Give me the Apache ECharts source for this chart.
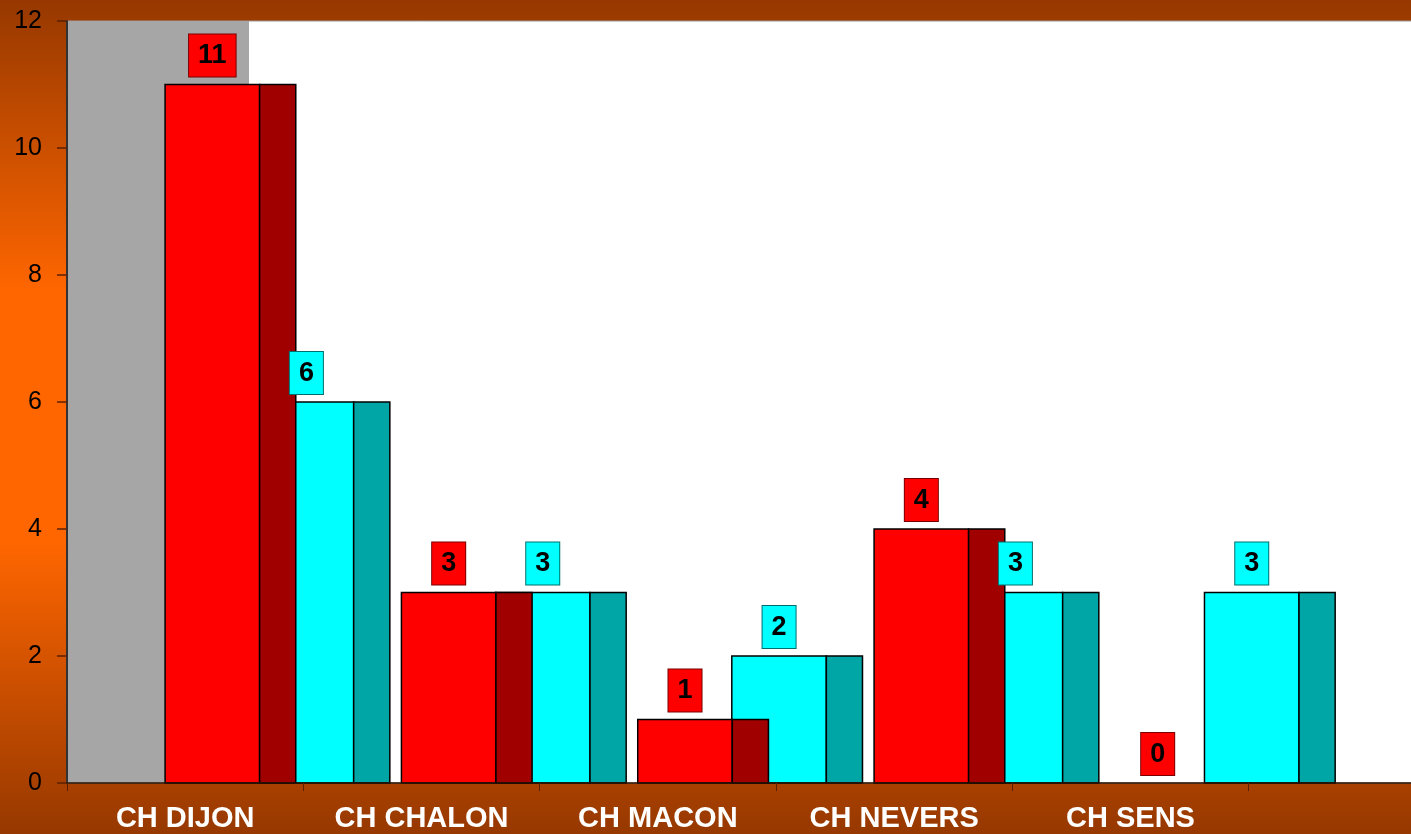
<!DOCTYPE html>
<html>
<head>
<meta charset="utf-8">
<script src="https://cdn.jsdelivr.net/npm/echarts@6/dist/echarts.min.js"></script>
<style>
html,body{margin:0;padding:0;overflow:hidden;width:1411px;height:834px;}
#chart{width:1485px;height:834px;}
</style>
</head>
<body>
<div id="chart"></div>
<script>
var categories = ['CH DIJON', 'CH CHALON', 'CH MACON', 'CH NEVERS', 'CH SENS', ''];
var redValues = [11, 3, 1, 4, 0];
var cyanValues = [6, 3, 2, 3, 3];
var yTicks = [0, 2, 4, 6, 8, 10, 12];

var FONT = '"Liberation Sans", Arial, sans-serif';

function barRenderer(front, side, offsetFrac, zBase) {
  return function (params, api) {
    var idx = api.value(0);
    var val = api.value(1);
    var base = api.coord([idx, 0]);
    var top = api.coord([idx, val]);
    var bw = api.size([1, 0])[0];
    var start = base[0] - bw / 2;
    var fx = start + offsetFrac * bw;
    var fw = 0.40 * bw;
    var sw = 0.153 * bw;
    var h = base[1] - top[1];
    if (h <= 0) return { type: 'group', children: [] };
    return {
      type: 'group',
      children: [
        { type: 'rect', z2: zBase, shape: { x: fx, y: top[1], width: fw, height: h },
          style: { fill: front, stroke: '#000', lineWidth: 1.5 } },
        { type: 'rect', z2: zBase, shape: { x: fx + fw, y: top[1], width: sw, height: h },
          style: { fill: side, stroke: '#000', lineWidth: 1.5 } }
      ]
    };
  };
}

function labelRenderer(bg, border, offsetFrac) {
  return function (params, api) {
    var idx = api.value(0);
    var val = api.value(1);
    var top = api.coord([idx, val]);
    var bw = api.size([1, 0])[0];
    var start = top[0] - bw / 2;
    var cx = start + offsetFrac * bw + 0.20 * bw;
    return {
      type: 'text',
      style: {
        text: String(val),
        x: cx, y: top[1] - 8,
        align: 'center', verticalAlign: 'bottom',
        fill: '#000',
        font: 'bold 27px ' + FONT,
        lineHeight: 27,
        backgroundColor: bg,
        borderColor: border,
        borderWidth: 1,
        padding: [8, 9, 7, 9]
      }
    };
  };
}

function toData(arr) { return arr.map(function (v, i) { return [i, v]; }); }

var chart = echarts.init(document.getElementById('chart'));
chart.setOption({
  animation: false,
  backgroundColor: {
    type: 'linear', x: 0, y: 0, x2: 0, y2: 1,
    colorStops: [
      { offset: 0, color: '#963800' },
      { offset: 0.35, color: '#FF6600' },
      { offset: 0.65, color: '#FF6600' },
      { offset: 1, color: '#963800' }
    ]
  },
  grid: {
    left: 67, top: 21, right: 0, bottom: 51,
    show: true, backgroundColor: '#FFFFFF', borderColor: '#999', borderWidth: 1
  },
  graphic: [
    { type: 'rect', z: 1, shape: { x: 68, y: 21, width: 181, height: 762 },
      style: { fill: '#A6A6A6' } }
  ],
  xAxis: {
    type: 'category',
    data: categories,
    boundaryGap: true,
    axisLine: { show: true, lineStyle: { color: '#2a1000', width: 1.5 } },
    axisTick: { show: true, alignWithLabel: false, length: 8, lineStyle: { color: '#5a2000', width: 1 } },
    axisLabel: { color: '#FFFFFF', fontWeight: 'bold', fontSize: 29, fontFamily: FONT, margin: 21, interval: 0 },
    splitLine: { show: false },
    z: 5
  },
  yAxis: {
    type: 'value',
    min: 0, max: 12, interval: 2,
    axisLine: { show: true, lineStyle: { color: '#333333', width: 2 } },
    axisTick: { show: true, length: 10, lineStyle: { color: '#5a2000', width: 1.5 } },
    axisLabel: {
      color: '#000', fontSize: 25, fontFamily: FONT, margin: 25,
      formatter: function (v) { return yTicks.indexOf(v) >= 0 ? String(v) : ''; }
    },
    splitLine: { show: false },
    z: 5
  },
  series: [
    { type: 'custom', name: 'cyan', z: 2, data: toData(cyanValues),
      renderItem: barRenderer('#00FFFF', '#00A5A5', 0.813, 1) },
    { type: 'custom', name: 'red', z: 3, data: toData(redValues),
      renderItem: barRenderer('#FF0000', '#A00000', 0.415, 2) },
    { type: 'custom', name: 'cyanLabels', z: 4, data: toData(cyanValues),
      renderItem: labelRenderer('#00FFFF', '#006e6e', 0.813) },
    { type: 'custom', name: 'redLabels', z: 4, data: toData(redValues),
      renderItem: labelRenderer('#FF0000', '#7a0000', 0.415) }
  ]
});
</script>
</body>
</html>
